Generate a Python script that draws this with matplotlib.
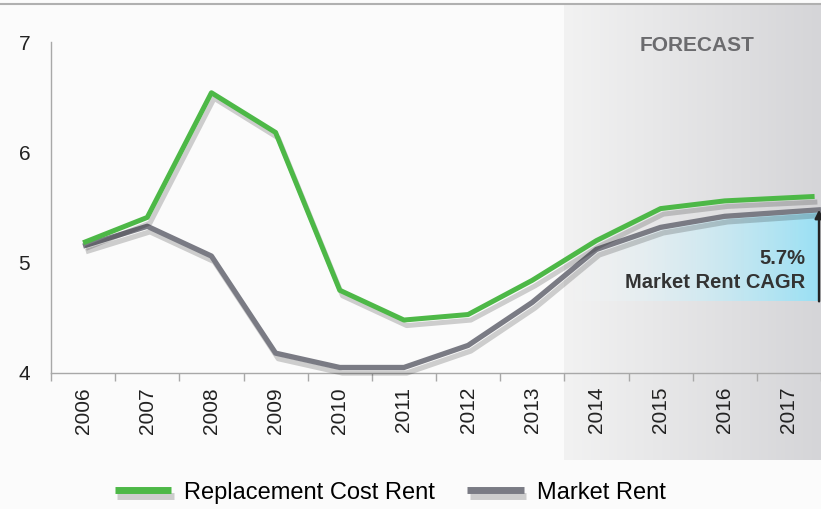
import matplotlib
matplotlib.use("Agg")
import matplotlib.pyplot as plt
import matplotlib.patheffects as pe
from matplotlib.colors import LinearSegmentedColormap
from matplotlib.lines import Line2D
import numpy as np

# --- data ---
years = ["2006", "2007", "2008", "2009", "2010", "2011",
         "2012", "2013", "2014", "2015", "2016", "2017"]
# x positions (category index); the forecast lines run a bit past the 2017 centre
replacement_x = [0, 1, 2, 3, 4, 5, 6, 7, 8, 9, 10, 11.4]
replacement_rent = [5.18, 5.41, 6.54, 6.18, 4.75, 4.48, 4.53, 4.84, 5.20, 5.49, 5.56, 5.60]
market_x = [0, 1, 2, 3, 4, 5, 6, 7, 8, 9, 10, 11.5]
market_rent = [5.15, 5.33, 5.06, 4.18, 4.05, 4.05, 4.25, 4.64, 5.12, 5.32, 5.42, 5.48]
cagr_base = 4.65
cagr_label = "5.7%\nMarket Rent CAGR"
forecast_start = 7.5  # boundary between 2013 and 2014

GREEN = "#4db847"
GREY = "#7a7b84"

plt.rcParams["font.family"] = ["Liberation Sans", "DejaVu Sans"]

fig = plt.figure(figsize=(8.21, 5.09), dpi=100, facecolor="#fbfbfb")
ax = fig.add_axes([51 / 821, 136 / 509, 770 / 821, 331 / 509])
ax.set_facecolor("none")

# forecast band (extends over the tick labels)
band_cmap = LinearSegmentedColormap.from_list("band", ["#f2f2f2", "#d5d5d8"])
grad = np.linspace(0, 1, 256).reshape(1, -1)
ax.imshow(grad, cmap=band_cmap, extent=[forecast_start, 11.5, 3.212, 7.344],
          aspect="auto", clip_on=False, zorder=0, interpolation="bicubic")

# light-blue CAGR wedge under the market rent line
fx = np.linspace(forecast_start + 0.05, 11.47, 200)
fy = np.interp(fx, market_x, market_rent)
poly = ax.fill_between(fx, fy, cagr_base, color="none", lw=0)
blue = np.zeros((1, 256, 4))
blue[0, :, 0] = np.linspace(1.0, 0.60, 256)
blue[0, :, 1] = np.linspace(1.0, 0.88, 256)
blue[0, :, 2] = np.linspace(1.0, 0.96, 256)
blue[0, :, 3] = np.linspace(0.0, 1.0, 256) ** 0.8
img = ax.imshow(blue, extent=[forecast_start, 11.5, cagr_base, 5.6],
                aspect="auto", zorder=1, interpolation="bicubic")
img.set_clip_path(poly.get_paths()[0], transform=ax.transData)

shadow = [pe.SimpleLineShadow(offset=(2, -4), shadow_color="black", alpha=0.18),
          pe.Normal()]
ax.plot(market_x, market_rent, color=GREY, lw=3.8, solid_capstyle="butt",
        path_effects=shadow, label="Market Rent", zorder=3, clip_on=False)
ax.plot(replacement_x, replacement_rent, color=GREEN, lw=3.6, solid_capstyle="butt",
        path_effects=shadow, label="Replacement Cost Rent", zorder=4, clip_on=False)

# CAGR arrow and label
ax.annotate("", xy=(11.47, market_rent[-1]), xytext=(11.47, cagr_base),
            arrowprops=dict(arrowstyle="-|>", color="#222222", lw=1.8,
                            shrinkA=0, shrinkB=0, mutation_scale=12),
            zorder=5, annotation_clip=False)
ax.text(11.25, 4.93, cagr_label, ha="right", va="center", fontsize=14.5,
        fontweight="bold", color="#333333", linespacing=1.3, zorder=5)

ax.text(9.57, 6.97, "FORECAST", ha="center", va="center", fontsize=15,
        fontweight="bold", color="#6b6b6e")

# axes styling
ax.set_xlim(-0.5, 11.5)
ax.set_ylim(4, 7)
ax.set_yticks([4, 5, 6, 7])
ax.tick_params(axis="y", length=0, labelsize=15, pad=15, labelcolor="#222222")
ax.set_xticks(range(len(years)))
ax.set_xticklabels(years, rotation=90, fontsize=15, color="#222222")
ax.set_xticks(np.arange(-0.5, 12, 1), minor=True)
ax.tick_params(axis="x", which="major", length=0, pad=10)
ax.tick_params(axis="x", which="minor", length=6, color="#a8a8a8", width=1)
for side in ["top", "right"]:
    ax.spines[side].set_visible(False)
for side in ["left", "bottom"]:
    ax.spines[side].set_color("#a8a8a8")
    ax.spines[side].set_linewidth(1)

# thin rule across the top
fig.add_artist(Line2D([0, 1], [1 - 4 / 509, 1 - 4 / 509], color="#b0b0b0", lw=1.5,
                      transform=fig.transFigure))

handles, labels = ax.get_legend_handles_labels()
leg = fig.legend(handles[::-1], labels[::-1], loc="center", ncol=2,
                 bbox_to_anchor=(0.475, 0.032), frameon=False, fontsize=17,
                 handlelength=2.4, handletextpad=0.55, columnspacing=1.35)
for line in leg.get_lines():
    line.set_linewidth(5)

fig.savefig("out.png", dpi=100, facecolor=fig.get_facecolor())
